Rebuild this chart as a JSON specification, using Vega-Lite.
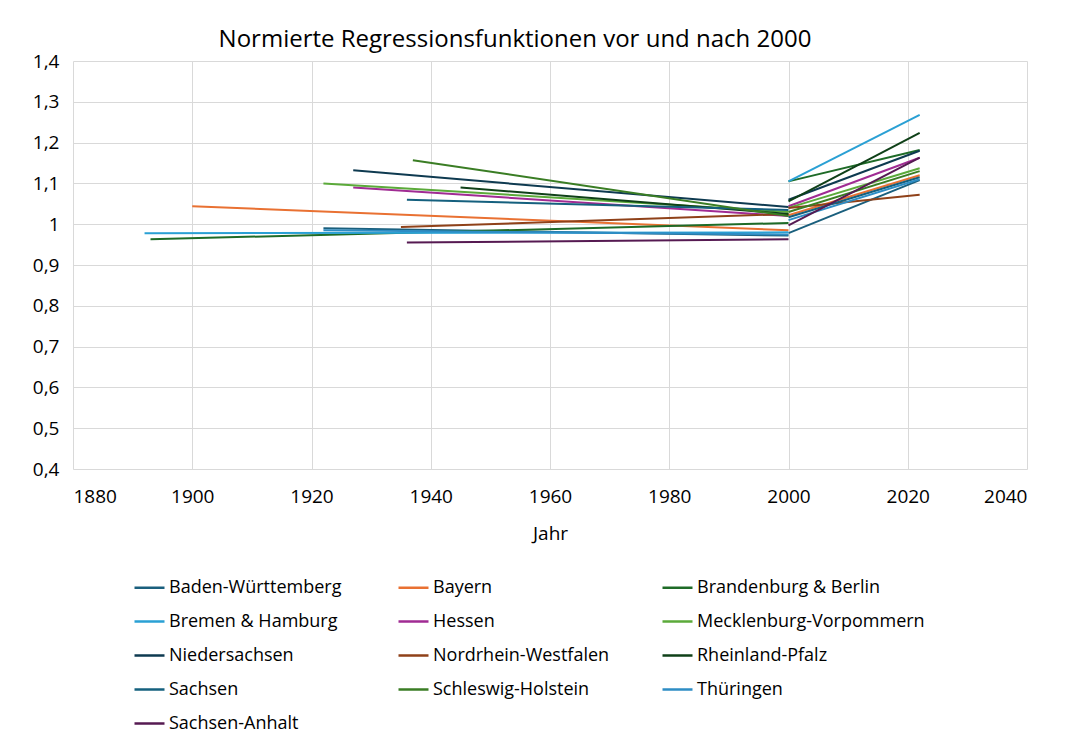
{
  "$schema": "https://vega.github.io/schema/vega-lite/v6.json",
  "autosize": "none",
  "width": 954,
  "height": 408,
  "padding": {"left": 73, "top": 61, "right": 42, "bottom": 278},
  "background": "white",
  "config": {
    "font": "Open Sans",
    "view": {"stroke": null},
    "axis": {"gridColor": "#D9D9D9", "gridWidth": 1, "domain": false, "ticks": false, "labelColor": "#000000", "titleColor": "#000000", "labelFont": "Open Sans", "titleFont": "Open Sans"}
  },
  "title": {"text": "Normierte Regressionsfunktionen vor und nach 2000", "fontSize": 24, "font": "Open Sans", "fontWeight": "normal", "color": "#000000", "anchor": "middle", "offset": 0, "dx": -35},
  "data": {"values": [
    {"land": "Baden-Württemberg", "abschnitt": "vor", "jahr": 1922, "wert": 0.990},
    {"land": "Baden-Württemberg", "abschnitt": "vor", "jahr": 2000, "wert": 0.972},
    {"land": "Baden-Württemberg", "abschnitt": "nach", "jahr": 2000, "wert": 0.978},
    {"land": "Baden-Württemberg", "abschnitt": "nach", "jahr": 2022, "wert": 1.108},
    {"land": "Bayern", "abschnitt": "vor", "jahr": 1900, "wert": 1.044},
    {"land": "Bayern", "abschnitt": "vor", "jahr": 2000, "wert": 0.985},
    {"land": "Bayern", "abschnitt": "nach", "jahr": 2000, "wert": 1.022},
    {"land": "Bayern", "abschnitt": "nach", "jahr": 2022, "wert": 1.120},
    {"land": "Brandenburg & Berlin", "abschnitt": "vor", "jahr": 1893, "wert": 0.963},
    {"land": "Brandenburg & Berlin", "abschnitt": "vor", "jahr": 2000, "wert": 1.003},
    {"land": "Brandenburg & Berlin", "abschnitt": "nach", "jahr": 2000, "wert": 1.105},
    {"land": "Brandenburg & Berlin", "abschnitt": "nach", "jahr": 2022, "wert": 1.182},
    {"land": "Bremen & Hamburg", "abschnitt": "vor", "jahr": 1892, "wert": 0.978},
    {"land": "Bremen & Hamburg", "abschnitt": "vor", "jahr": 2000, "wert": 0.980},
    {"land": "Bremen & Hamburg", "abschnitt": "nach", "jahr": 2000, "wert": 1.105},
    {"land": "Bremen & Hamburg", "abschnitt": "nach", "jahr": 2022, "wert": 1.268},
    {"land": "Hessen", "abschnitt": "vor", "jahr": 1927, "wert": 1.090},
    {"land": "Hessen", "abschnitt": "vor", "jahr": 2000, "wert": 1.020},
    {"land": "Hessen", "abschnitt": "nach", "jahr": 2000, "wert": 1.044},
    {"land": "Hessen", "abschnitt": "nach", "jahr": 2022, "wert": 1.163},
    {"land": "Mecklenburg-Vorpommern", "abschnitt": "vor", "jahr": 1922, "wert": 1.100},
    {"land": "Mecklenburg-Vorpommern", "abschnitt": "vor", "jahr": 2000, "wert": 1.030},
    {"land": "Mecklenburg-Vorpommern", "abschnitt": "nach", "jahr": 2000, "wert": 1.040},
    {"land": "Mecklenburg-Vorpommern", "abschnitt": "nach", "jahr": 2022, "wert": 1.137},
    {"land": "Niedersachsen", "abschnitt": "vor", "jahr": 1927, "wert": 1.132},
    {"land": "Niedersachsen", "abschnitt": "vor", "jahr": 2000, "wert": 1.042},
    {"land": "Niedersachsen", "abschnitt": "nach", "jahr": 2000, "wert": 1.060},
    {"land": "Niedersachsen", "abschnitt": "nach", "jahr": 2022, "wert": 1.180},
    {"land": "Nordrhein-Westfalen", "abschnitt": "vor", "jahr": 1935, "wert": 0.993},
    {"land": "Nordrhein-Westfalen", "abschnitt": "vor", "jahr": 2000, "wert": 1.025},
    {"land": "Nordrhein-Westfalen", "abschnitt": "nach", "jahr": 2000, "wert": 1.040},
    {"land": "Nordrhein-Westfalen", "abschnitt": "nach", "jahr": 2022, "wert": 1.072},
    {"land": "Rheinland-Pfalz", "abschnitt": "vor", "jahr": 1945, "wert": 1.090},
    {"land": "Rheinland-Pfalz", "abschnitt": "vor", "jahr": 2000, "wert": 1.025},
    {"land": "Rheinland-Pfalz", "abschnitt": "nach", "jahr": 2000, "wert": 1.056},
    {"land": "Rheinland-Pfalz", "abschnitt": "nach", "jahr": 2022, "wert": 1.224},
    {"land": "Sachsen", "abschnitt": "vor", "jahr": 1936, "wert": 1.060},
    {"land": "Sachsen", "abschnitt": "vor", "jahr": 2000, "wert": 1.035},
    {"land": "Sachsen", "abschnitt": "nach", "jahr": 2000, "wert": 1.017},
    {"land": "Sachsen", "abschnitt": "nach", "jahr": 2022, "wert": 1.115},
    {"land": "Schleswig-Holstein", "abschnitt": "vor", "jahr": 1937, "wert": 1.157},
    {"land": "Schleswig-Holstein", "abschnitt": "vor", "jahr": 2000, "wert": 1.020},
    {"land": "Schleswig-Holstein", "abschnitt": "nach", "jahr": 2000, "wert": 1.030},
    {"land": "Schleswig-Holstein", "abschnitt": "nach", "jahr": 2022, "wert": 1.130},
    {"land": "Thüringen", "abschnitt": "vor", "jahr": 1922, "wert": 0.985},
    {"land": "Thüringen", "abschnitt": "vor", "jahr": 2000, "wert": 0.975},
    {"land": "Thüringen", "abschnitt": "nach", "jahr": 2000, "wert": 1.010},
    {"land": "Thüringen", "abschnitt": "nach", "jahr": 2022, "wert": 1.110},
    {"land": "Sachsen-Anhalt", "abschnitt": "vor", "jahr": 1936, "wert": 0.955},
    {"land": "Sachsen-Anhalt", "abschnitt": "vor", "jahr": 2000, "wert": 0.963},
    {"land": "Sachsen-Anhalt", "abschnitt": "nach", "jahr": 2000, "wert": 0.997},
    {"land": "Sachsen-Anhalt", "abschnitt": "nach", "jahr": 2022, "wert": 1.163}
  ]},
  "mark": {"type": "line", "strokeWidth": 2},
  "encoding": {
    "x": {"field": "jahr", "type": "quantitative", "title": "Jahr",
      "scale": {"domain": [1880, 2040], "nice": false, "zero": false},
      "axis": {"values": [1880, 1900, 1920, 1940, 1960, 1980, 2000, 2020, 2040], "format": "d", "labelFontSize": 19, "labelPadding": 18, "titleFontSize": 19, "titleFontWeight": "normal", "titlePadding": 18}},
    "y": {"field": "wert", "type": "quantitative", "title": null,
      "scale": {"domain": [0.4, 1.4], "nice": false, "zero": false},
      "axis": {"values": [0.4, 0.5, 0.6, 0.7, 0.8, 0.9, 1.0, 1.1, 1.2, 1.3, 1.4], "labelExpr": "replace(format(datum.value, '.1~f'), '.', ',')", "labelFontSize": 19, "labelPadding": 14}},
    "color": {"field": "land", "type": "nominal", "title": null,
      "scale": {
        "domain": ["Baden-Württemberg", "Bayern", "Brandenburg & Berlin", "Bremen & Hamburg", "Hessen", "Mecklenburg-Vorpommern", "Niedersachsen", "Nordrhein-Westfalen", "Rheinland-Pfalz", "Sachsen", "Schleswig-Holstein", "Thüringen", "Sachsen-Anhalt"],
        "range": ["#1A5F7D", "#E97132", "#1E6B27", "#2AA0D4", "#A02B93", "#5BAA3A", "#0E3A50", "#8F4119", "#0F4018", "#15607E", "#3A7D24", "#2E8DC4", "#561A52"]
      },
      "legend": {"orient": "none", "legendX": 60, "legendY": 510, "columns": 3, "direction": "horizontal", "gridAlign": "all", "symbolType": "stroke", "symbolSize": 900, "symbolStrokeWidth": 2.5, "labelFontSize": 18, "labelFont": "Open Sans", "labelColor": "#000000", "labelOffset": 3, "rowPadding": 8, "columnPadding": -9, "labelLimit": 400}},
    "detail": {"field": "abschnitt"}
  }
}
